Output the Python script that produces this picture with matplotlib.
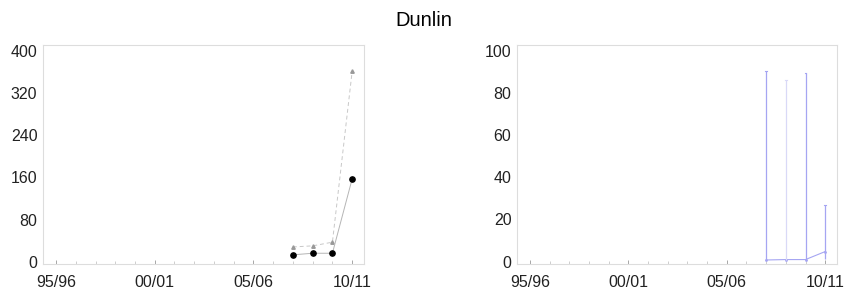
import matplotlib
matplotlib.use("Agg")
import matplotlib.pyplot as plt
from matplotlib.ticker import MultipleLocator

plt.rcParams['font.family'] = ['Liberation Sans', 'DejaVu Sans']

# seasons as years after 1995/96
season_labels = ["95/96", "00/01", "05/06", "10/11"]
season_ticks = [0, 5, 10, 15]
seasons = [12, 13, 14, 15]

# left panel: counts
counts_peak = [13, 16, 16, 157]
counts_max = [28, 30, 37, 361]

# right panel: index with upper / lower limits
index_vals = [0.8, 1.0, 1.0, 4.8]
index_low = [0.6, 1.0, 1.0, 1.5]
index_high = [90.5, 86, 89.5, 27]

grid_col = "#dddddd"
line_blue = "#a5a5f2"

fig = plt.figure(figsize=(8.48, 2.97), dpi=100)
ax1 = fig.add_axes([43/848, 1-264/297, 321/848, 219/297])
ax2 = fig.add_axes([517/848, 1-264/297, 320/848, 219/297])

def style(ax):
    for s in ax.spines.values():
        s.set_color(grid_col)
        s.set_linewidth(0.8)
    ax.set_xticks(season_ticks)
    ax.set_xticklabels(season_labels)
    ax.xaxis.set_minor_locator(MultipleLocator(1))
    ax.tick_params(axis='both', which='major', labelsize=11.5, colors="#999999",
                   labelcolor="#222222", length=3, width=0.6)
    ax.tick_params(axis='both', which='minor', colors="#bbbbbb", length=2, width=0.5)
    ax.tick_params(axis='x', which='both', direction='in', pad=8)
    ax.tick_params(axis='y', which='both', direction='out', length=0, pad=4)
    ax.set_xlim(-0.66, 15.6)

# left chart
ax1.plot(seasons, counts_max, color="#c8c8c8", lw=0.7, ls=(0, (4, 3)),
         marker='^', ms=2.5, mfc="#999999", mec="#999999")
ax1.plot(seasons, counts_peak, color="#b5b5b5", lw=0.7,
         marker='o', ms=3.8, mfc="black", mec="black")
ax1.set_ylim(-4.4, 411)
ax1.set_yticks([0, 80, 160, 240, 320, 400])
style(ax1)

# right chart
ax2.plot(seasons, index_vals, color=line_blue, lw=0.8, marker='.', ms=2)
for i, (x, lo, hi) in enumerate(zip(seasons, index_low, index_high)):
    c = "#d9d9f7" if i == 1 else line_blue
    ax2.vlines(x, lo, hi, color=c, lw=0.9)
    ax2.plot([x - 0.04, x + 0.04], [hi, hi], color=c, lw=0.8)
ax2.set_ylim(-1.1, 102.7)
ax2.set_yticks([0, 20, 40, 60, 80, 100])
style(ax2)

fig.text(0.5, 1 - 20/297, "Dunlin", ha='center', va='center', fontsize=14.5)

fig.savefig("out.png", dpi=100)
